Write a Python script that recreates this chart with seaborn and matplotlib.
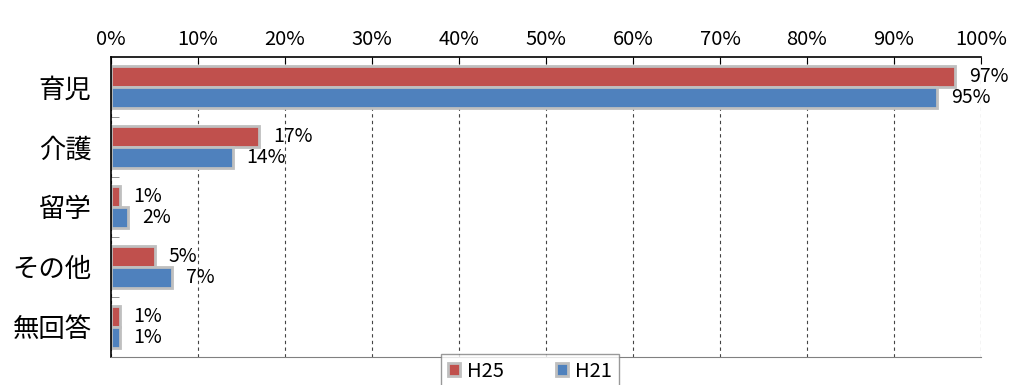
import pandas as pd
import matplotlib.pyplot as plt
import seaborn as sns
from matplotlib.ticker import FixedLocator

categories = ['育児', '介護', '留学', 'その他', '無回答']
h25 = [97, 17, 1, 5, 1]
h21 = [95, 14, 2, 7, 1]
series = ['H25', 'H21']
xticks = list(range(0, 101, 10))

sns.set_style('white')
plt.rcParams['font.family'] = ['Noto Sans CJK JP', 'DejaVu Sans']
plt.rcParams['text.color'] = 'black'
plt.rcParams['xtick.color'] = 'black'
plt.rcParams['ytick.color'] = 'black'

df = pd.DataFrame({
    'category': categories * 2,
    'value': h25 + h21,
    'series': ['H25'] * len(categories) + ['H21'] * len(categories),
})

fig = plt.figure(figsize=(10.11, 3.85), dpi=100)
ax = fig.add_axes([0.1098, 0.073, 0.8605, 0.779])

sns.barplot(data=df, y='category', x='value', hue='series', orient='h',
            palette={'H25': '#C0504D', 'H21': '#4F81BD'}, saturation=1,
            width=0.7, edgecolor='#BFBFBF', linewidth=2, ax=ax, legend=True)

for cont, vals in zip(ax.containers, [h25, h21]):
    ax.bar_label(cont, labels=[f'{v}%' for v in vals], padding=10, fontsize=14)

ax.set_xlim(0, 100)
ax.set_ylim(4.5, -0.5)
ax.xaxis.tick_top()
ax.set_xticks(xticks)
ax.set_xticklabels([f'{t}%' for t in xticks], fontsize=14.5)
ax.tick_params(axis='x', direction='in', length=5, pad=5)
ax.xaxis.grid(True, linestyle=(0, (3, 3)), color='#444444', linewidth=0.8)
ax.set_axisbelow(True)

ax.set_yticks(range(len(categories)))
ax.set_yticklabels(categories, fontsize=19)
ax.tick_params(axis='y', length=0, pad=14)
ax.yaxis.set_minor_locator(FixedLocator([0.5, 1.5, 2.5, 3.5]))
ax.tick_params(axis='y', which='minor', left=True, direction='in', length=6,
               color='#808080')

ax.set_xlabel('')
ax.set_ylabel('')
for s in ['top', 'left']:
    ax.spines[s].set_color('black')
    ax.spines[s].set_linewidth(1.2)
ax.spines['right'].set_visible(False)
ax.spines['bottom'].set_color('#808080')

leg = ax.legend(loc='upper center', bbox_to_anchor=(0.4816, 0.01), ncol=2,
                frameon=True, fancybox=False, edgecolor='#808080', fontsize=14.5,
                handlelength=0.6, handleheight=0.6, columnspacing=2.6,
                borderpad=0.35, borderaxespad=0, handletextpad=0.35)
leg.get_frame().set_linewidth(1)

fig.savefig('out.png', dpi=100)
